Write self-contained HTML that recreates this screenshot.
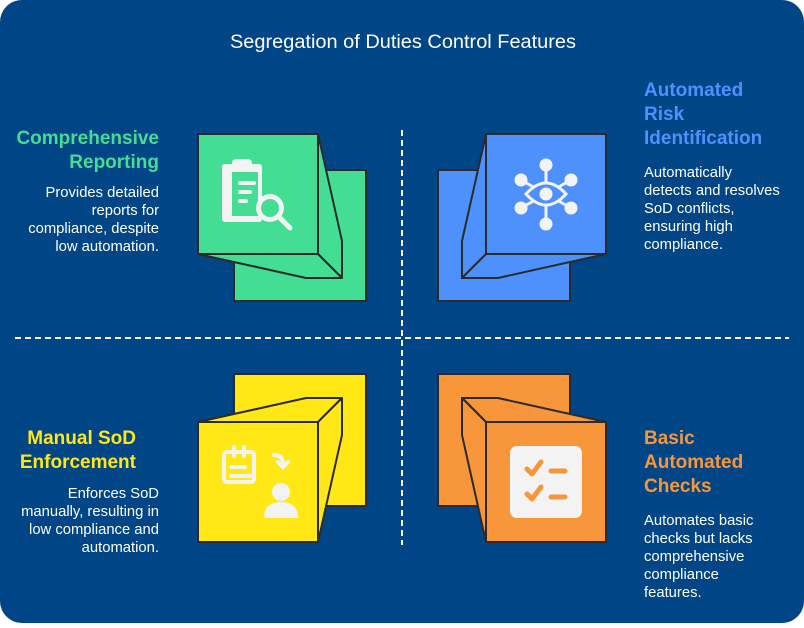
<!DOCTYPE html>
<html><head><meta charset="utf-8"><style>
body{margin:0;width:804px;height:623px;background:#fff;overflow:hidden}
svg text{font-family:"Liberation Sans",sans-serif}
</style></head><body>
<svg width="804" height="623" viewBox="0 0 804 623" xmlns="http://www.w3.org/2000/svg">
<rect x="0" y="0" width="804" height="623" rx="22" fill="#004585"/>
<text x="403" y="48" fill="#fff" font-size="19.5" text-anchor="middle" textLength="346" lengthAdjust="spacingAndGlyphs">Segregation of Duties Control Features</text>
<line x1="15" y1="338" x2="789" y2="338" stroke="#fff" stroke-width="2" stroke-dasharray="6,4"/>
<line x1="402" y1="130" x2="402" y2="545" stroke="#fff" stroke-width="2" stroke-dasharray="6,4"/>
<g stroke="#2b2b2b" stroke-width="2" stroke-linejoin="round">
<rect x="234" y="170" width="132" height="131" fill="#43dd93"/>
<polygon points="318,134 342,241 342,278 318,254" fill="#43dd93"/>
<polygon points="198,254 306,278 342,278 318,254" fill="#43dd93"/>
<rect x="198" y="134" width="120" height="120" fill="#43dd93"/>
<rect x="438" y="170" width="132" height="131" fill="#4e91fd"/>
<polygon points="486,134 462,241 462,278 486,254" fill="#4e91fd"/>
<polygon points="462,278 498,278 606,254 486,254" fill="#4e91fd"/>
<rect x="486" y="134" width="120" height="120" fill="#4e91fd"/>
<rect x="234" y="374" width="132" height="132" fill="#ffe815"/>
<polygon points="198,422 306,398 342,398 318,422" fill="#ffe815"/>
<polygon points="318,422 342,398 342,435 318,542" fill="#ffe815"/>
<rect x="198" y="422" width="120" height="120" fill="#ffe815"/>
<rect x="438" y="374" width="132" height="132" fill="#f7963a"/>
<polygon points="462,398 498,398 606,422 486,422" fill="#f7963a"/>
<polygon points="462,398 486,422 486,542 462,435" fill="#f7963a"/>
<rect x="486" y="422" width="120" height="120" fill="#f7963a"/>
</g>
<g fill="#f3f3f3">
<rect x="222" y="164" width="40" height="58" rx="3"/>
<rect x="232" y="159" width="20" height="10" rx="4"/>
<rect x="232" y="172" width="26" height="44" fill="#43dd93"/>
<rect x="238" y="181" width="18" height="4" rx="2"/>
<rect x="238" y="190" width="14" height="4" rx="2"/>
<rect x="238" y="199" width="10" height="4" rx="2"/>
<circle cx="270" cy="208" r="14"/>
<circle cx="270" cy="208" r="9" fill="#43dd93"/>
<line x1="279" y1="217" x2="290" y2="228" stroke="#f3f3f3" stroke-width="5" stroke-linecap="round"/>
</g>
<g fill="#f3f3f3" stroke="#f3f3f3" stroke-width="3">
<line x1="546" y1="165" x2="546" y2="224"/>
<line x1="521" y1="180" x2="571" y2="208"/>
<line x1="571" y1="180" x2="521" y2="208"/>
<circle cx="546" cy="165" r="5"/><circle cx="546" cy="224" r="5"/>
<circle cx="521" cy="180" r="5"/><circle cx="571" cy="180" r="5"/>
<circle cx="521" cy="208" r="5"/><circle cx="571" cy="208" r="5"/>
<path d="M526 194 Q546 172 566 194 Q546 216 526 194Z" fill="#4e91fd"/>
<circle cx="546" cy="194" r="5"/>
</g>
<g fill="none" stroke="#f3f3f3" stroke-width="4" stroke-linecap="round">
<rect x="224" y="452" width="30" height="30" rx="3"/>
<line x1="234" y1="447" x2="234" y2="456"/><line x1="244" y1="447" x2="244" y2="456"/>
<line x1="231" y1="467" x2="245" y2="467"/><line x1="231" y1="476" x2="250" y2="476"/>
<path d="M274 455 Q283 455 283 464"/><path d="M278 462 L283 467 L288 462"/>
</g>
<g fill="#f3f3f3">
<circle cx="281" cy="492" r="9"/>
<path d="M264 518 Q264 502 281 502 Q298 502 298 518Z"/>
</g>
<rect x="510" y="446" width="72" height="72" rx="7" fill="#f3f3f3"/>
<g fill="none" stroke="#f7963a" stroke-width="5" stroke-linecap="round" stroke-linejoin="round">
<path d="M527 469 L532 474 L541 462"/><line x1="551" y1="471" x2="565" y2="471"/>
<path d="M527 494 L532 499 L541 487"/><line x1="551" y1="497" x2="565" y2="497"/>
</g>
<g font-weight="bold" font-size="19">
<text x="159" y="144" fill="#43dd93" text-anchor="end">Comprehensive</text>
<text x="159" y="168" fill="#43dd93" text-anchor="end">Reporting</text>
<text x="644" y="96" fill="#4e91fd">Automated</text>
<text x="644" y="120" fill="#4e91fd">Risk</text>
<text x="644" y="144" fill="#4e91fd">Identification</text>
<text x="136" y="444" fill="#ffe815" text-anchor="end">Manual SoD</text>
<text x="136" y="468" fill="#ffe815" text-anchor="end">Enforcement</text>
<text x="644" y="444" fill="#f7963a">Basic</text>
<text x="644" y="468" fill="#f7963a">Automated</text>
<text x="644" y="492" fill="#f7963a">Checks</text>
</g>
<g font-size="14.8" fill="#fff">
<text text-anchor="end"><tspan x="159" y="197">Provides detailed</tspan><tspan x="159" y="215">reports for</tspan><tspan x="159" y="233">compliance, despite</tspan><tspan x="159" y="251">low automation.</tspan></text>
<text><tspan x="644" y="177">Automatically</tspan><tspan x="644" y="195">detects and resolves</tspan><tspan x="644" y="213">SoD conflicts,</tspan><tspan x="644" y="231">ensuring high</tspan><tspan x="644" y="249">compliance.</tspan></text>
<text text-anchor="end"><tspan x="159" y="498">Enforces SoD</tspan><tspan x="159" y="516">manually, resulting in</tspan><tspan x="159" y="534">low compliance and</tspan><tspan x="159" y="552">automation.</tspan></text>
<text><tspan x="644" y="525">Automates basic</tspan><tspan x="644" y="543">checks but lacks</tspan><tspan x="644" y="561">comprehensive</tspan><tspan x="644" y="579">compliance</tspan><tspan x="644" y="597">features.</tspan></text>
</g>
</svg>
</body></html>
